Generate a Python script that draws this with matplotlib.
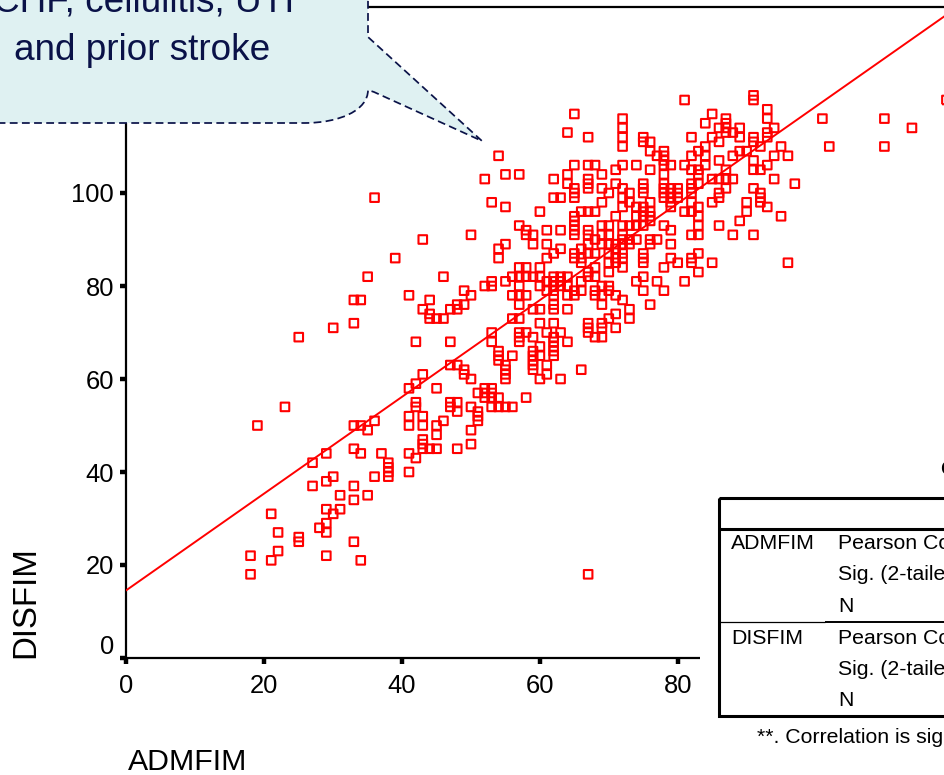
#!/usr/bin/env python3
"""Scatter of discharge FIM against admission FIM, with the callout and the
correlation table that overlap it on the slide."""

import matplotlib
matplotlib.use('Agg')
import matplotlib.pyplot as plt
from matplotlib.patches import PathPatch, Rectangle
from matplotlib.path import Path
from matplotlib.transforms import ScaledTranslation

plt.rcParams['font.family'] = ['Liberation Sans', 'DejaVu Sans']

W, H = 945, 775
NAVY = '#0a1248'

ADMFIM = [
    18, 18, 19, 21, 21, 22, 22, 23, 25, 25, 25, 27, 27, 28,
    29, 29, 29, 29, 29, 29, 30, 30, 30, 31, 31,
    33, 33, 33, 33, 33, 33, 33, 34, 34, 34, 34, 35, 35, 35, 36, 36, 36,
    37, 38, 38, 38, 38, 39,
    41, 41, 41, 41, 41, 41, 42, 42, 42, 42, 42,
    43, 43, 43, 43, 43, 43, 43, 43, 44, 44, 44, 44,
    45, 45, 45, 45, 45, 46, 46, 46, 47, 47, 47, 47, 47,
    48, 48, 48, 48, 48, 48, 49, 49, 49, 49,
    50, 50, 50, 50, 50, 50, 51, 51, 51, 51, 52, 52, 52, 52, 52,
    53, 53, 53, 53, 53, 53, 53, 53, 53,
    54, 54, 54, 54, 54, 54, 54, 54,
    55, 55, 55, 55, 55, 55, 55, 55, 55, 56, 56, 56, 56, 56,
    57, 57, 57, 57, 57, 57, 57, 57, 57, 57, 57,
    58, 58, 58, 58, 58, 58, 58,
    59, 59, 59, 59, 59, 59, 59, 59, 59, 59,
    60, 60, 60, 60, 60, 60, 60, 60, 60,
    61, 61, 61, 61, 61, 61, 61, 61,
    62, 62, 62, 62, 62, 62, 62, 62, 62, 62, 62, 62, 62, 62, 62, 62,
    63, 63, 63, 63, 63, 63, 63, 63,
    64, 64, 64, 64, 64, 64, 64, 64,
    65, 65, 65, 65, 65, 65, 65, 65, 65, 65, 65, 65, 65, 65,
    66, 66, 66, 66, 66, 66, 66,
    67, 67, 67, 67, 67, 67, 67, 67, 67, 67, 67, 67, 67, 67, 67, 67,
    68, 68, 68, 68, 68, 68, 68, 68, 68,
    69, 69, 69, 69, 69, 69, 69, 69, 69, 69, 69, 69,
    70, 70, 70, 70, 70, 70, 70, 70, 70, 70,
    71, 71, 71, 71, 71, 71, 71, 71, 71, 71,
    72, 72, 72, 72, 72, 72, 72, 72, 72, 72, 72, 72, 72, 72, 72, 72,
    73, 73, 73, 73, 73, 73, 73, 74, 74, 74, 74, 74, 74,
    75, 75, 75, 75, 75, 75, 75, 75, 75, 75, 75, 75, 75, 75,
    76, 76, 76, 76, 76, 76, 76, 76, 76, 76, 77, 77, 77,
    78, 78, 78, 78, 78, 78, 78, 78, 78, 78, 78, 78,
    79, 79, 79, 79, 79, 79, 79, 79, 79, 80, 80, 80, 80, 81, 81, 81, 81,
    82, 82, 82, 82, 82, 82, 82, 82, 82, 82, 82,
    83, 83, 83, 83, 83, 83, 83, 83, 83, 83, 84, 84, 84, 84,
    85, 85, 85, 85, 85, 86, 86, 86, 86, 86, 86, 86,
    87, 87, 87, 87, 87, 87, 87, 88, 88, 88, 88, 89, 89, 89, 89, 90, 90, 90,
    91, 91, 91, 91, 91, 91, 91, 91, 92, 92, 92, 92, 92,
    93, 93, 93, 93, 93, 93, 94, 94, 94, 95, 95, 96, 96, 97,
    101, 102, 110, 110, 114, 119,
]
DISFIM = [
    22, 18, 50, 31, 21, 27, 23, 54, 69, 26, 25, 42, 37, 28,
    44, 38, 32, 29, 27, 22, 71, 39, 31, 35, 32,
    77, 72, 50, 45, 37, 34, 25, 77, 50, 44, 21, 82, 49, 35, 99, 51, 39,
    44, 42, 41, 40, 39, 86,
    78, 58, 52, 50, 44, 40, 68, 59, 55, 54, 43,
    90, 75, 61, 52, 50, 47, 46, 45, 77, 74, 73, 45,
    73, 58, 50, 48, 45, 82, 73, 51, 75, 68, 63, 55, 54,
    76, 75, 63, 55, 53, 45, 79, 76, 62, 61,
    91, 78, 60, 54, 49, 46, 57, 53, 52, 51, 103, 80, 58, 57, 56,
    98, 81, 80, 70, 68, 58, 57, 56, 54,
    108, 88, 86, 66, 65, 64, 56, 54,
    104, 97, 89, 81, 63, 62, 61, 60, 54, 82, 78, 73, 65, 54,
    104, 93, 84, 82, 80, 78, 76, 73, 70, 69, 68,
    92, 91, 84, 82, 78, 70, 56,
    91, 89, 82, 75, 69, 66, 65, 64, 63, 62,
    96, 84, 82, 80, 75, 72, 67, 65, 60,
    92, 89, 86, 81, 79, 70, 63, 61,
    103, 99, 87, 82, 81, 80, 79, 78, 76, 75, 72, 69, 68, 67, 66, 65,
    99, 92, 88, 82, 81, 80, 70, 60,
    113, 104, 102, 82, 80, 78, 75, 68,
    117, 106, 101, 100, 99, 95, 94, 93, 92, 91, 87, 86, 79, 78,
    96, 88, 86, 85, 81, 79, 62,
    112, 106, 103, 102, 101, 96, 92, 91, 89, 87, 83, 82, 72, 71, 70, 18,
    106, 96, 90, 87, 84, 82, 79, 78, 69,
    104, 101, 98, 93, 91, 89, 80, 78, 76, 72, 71, 69,
    100, 93, 91, 89, 87, 85, 83, 80, 79, 73,
    105, 102, 95, 89, 88, 86, 85, 78, 74, 71,
    116, 114, 112, 110, 106, 101, 99, 97, 93, 91, 90, 89, 87, 86, 84, 77,
    100, 98, 93, 90, 89, 75, 73, 106, 97, 95, 93, 90, 81,
    112, 111, 102, 101, 100, 97, 96, 95, 93, 87, 86, 85, 82, 79,
    111, 109, 105, 98, 96, 95, 94, 90, 89, 76, 108, 90, 81,
    109, 108, 107, 106, 104, 102, 101, 100, 99, 93, 84, 79,
    106, 101, 100, 99, 98, 97, 92, 89, 86, 101, 100, 99, 85, 120, 106, 96, 81,
    112, 108, 105, 102, 101, 100, 98, 96, 91, 86, 85,
    109, 105, 104, 102, 97, 95, 93, 91, 87, 83, 115, 110, 108, 106,
    117, 112, 103, 98, 85, 114, 111, 107, 103, 100, 99, 93,
    116, 115, 114, 113, 105, 103, 101, 113, 108, 103, 91, 114, 112, 109, 94, 109, 98, 96,
    121, 120, 112, 111, 107, 105, 101, 91, 110, 105, 100, 99, 98,
    118, 116, 113, 112, 106, 97, 114, 108, 103, 110, 95, 108, 85, 102,
    116, 110, 116, 110, 114, 120,
]
FIT_X = [0, 119]
FIT_Y = [14.6, 138.3]

X_TICKS = [0, 20, 40, 60, 80]
Y_TICKS = [0, 20, 40, 60, 80, 100]

ROW_LABELS = ['ADMFIM', 'DISFIM']
STAT_LABELS = ['Pearson Correlation', 'Sig. (2-tailed)', 'N']
TABLE_TITLE = 'Correlations'
FOOTNOTE = '**. Correlation is significant at the 0.01 level (2-tailed).'
CALLOUT_LINES = ['CHF, cellulitis, UTI', 'and prior stroke']


def draw_callout(ov):
    verts = [
        (-10, -10), (368, -10), (368, 37), (482, 141), (374, 92), (368, 90),
        (368, 110), (340, 123), (305, 123), (-10, 123), (-10, -10),
    ]
    codes = [
        Path.MOVETO, Path.LINETO, Path.LINETO, Path.LINETO, Path.LINETO,
        Path.LINETO, Path.CURVE4, Path.CURVE4, Path.CURVE4, Path.LINETO,
        Path.CLOSEPOLY,
    ]
    ov.add_patch(PathPatch(
        Path(verts, codes), facecolor='#dff1f2', edgecolor=NAVY,
        linewidth=1.25, linestyle=(0, (4.5, 2.5)),
    ))
    ov.text(144, 2, CALLOUT_LINES[0], color=NAVY, fontsize=26.6,
            ha='center', va='center')
    ov.text(142, 50, CALLOUT_LINES[1], color=NAVY, fontsize=26.6,
            ha='center', va='center')


def draw_table(ov):
    # white slide box that hides the end of the x axis
    ov.add_patch(Rectangle((700, 445), 260, 330, facecolor='white',
                           edgecolor='none'))
    ov.add_patch(Rectangle((718.5, 497.5), 300, 218, facecolor='none',
                           edgecolor='black', linewidth=2.2))
    ov.plot([718, 945], [529, 529], color='black', lw=2.2,
            solid_capstyle='butt')
    ov.plot([718, 825], [622, 622], color='black', lw=0.9,
            solid_capstyle='butt')
    ov.plot([825, 945], [622, 622], color='black', lw=1.4,
            solid_capstyle='butt')
    ov.text(940, 475, TABLE_TITLE, fontsize=15.3, fontweight='bold',
            ha='left', va='baseline')
    rows = [(ROW_LABELS[0], [549, 580, 611.5]),
            (ROW_LABELS[1], [644, 675, 706.5])]
    for label, baselines in rows:
        ov.text(731, baselines[0], label, fontsize=15.3,
                ha='left', va='baseline')
        for stat, yb in zip(STAT_LABELS, baselines):
            ov.text(838, yb, stat, fontsize=15.3, ha='left', va='baseline')
    ov.text(757, 743, FOOTNOTE, fontsize=15.3, ha='left', va='baseline')


def main():
    fig = plt.figure(figsize=(W / 100, H / 100), dpi=100)
    ax = fig.add_axes([126.5 / W, (H - 658) / H, (W - 126.5) / W, 651 / H])
    ax.set_xlim(0, (W - 126.5) / 6.89)
    ax.set_ylim(0, 651 / 4.65)

    pts = ax.scatter(ADMFIM, DISFIM, marker='s', s=38, facecolors='none',
                     edgecolors='#ff0000', linewidths=1.5, zorder=3)
    pts.set_snap(False)
    ax.plot(FIT_X, FIT_Y, color='#ff0000', lw=1.4, zorder=4)

    for side in ['left', 'bottom', 'top']:
        ax.spines[side].set_linewidth(1.6)
    ax.spines['right'].set_visible(False)

    ax.set_xticks(X_TICKS)
    ax.set_yticks(Y_TICKS)
    ax.tick_params(axis='both', length=4, width=3.2, labelsize=18.4, pad=5)
    ax.tick_params(axis='x', pad=7.5)
    # the 0 on the y axis sits above its tick
    zero = ax.get_yticklabels()[0]
    zero.set_transform(zero.get_transform()
                       + ScaledTranslation(0, 13 / 100, fig.dpi_scale_trans))

    ov = fig.add_axes([0, 0, 1, 1], zorder=5)
    ov.set_xlim(0, W)
    ov.set_ylim(H, 0)
    ov.axis('off')
    ov.patch.set_alpha(0)

    draw_table(ov)
    draw_callout(ov)
    ov.text(26, 602, 'DISFIM', fontsize=23.8, rotation=90,
            ha='center', va='center')
    ov.text(188, 762, 'ADMFIM', fontsize=21.8, ha='center', va='center')

    fig.savefig('out.png', dpi=100)


if __name__ == '__main__':
    main()
